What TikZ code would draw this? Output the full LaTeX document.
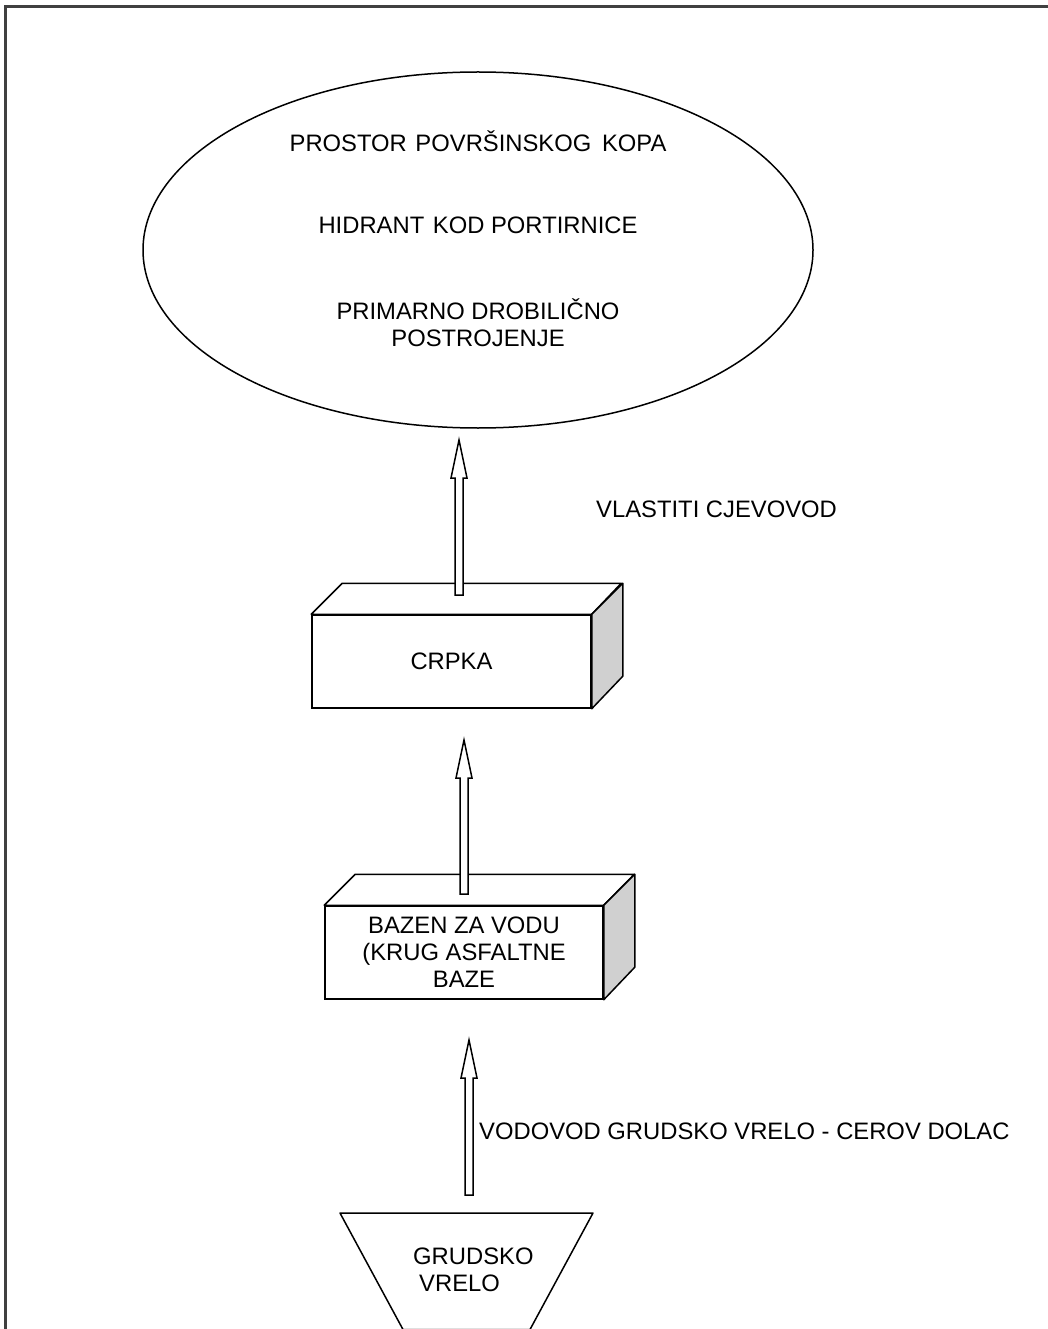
\documentclass[tikz,border=0pt]{standalone}
\usepackage{fontspec}
\setmainfont{Liberation Sans}
\usetikzlibrary{calc, positioning}
\usetikzlibrary{shapes.geometric}

\definecolor{framegray}{HTML}{404040}
\definecolor{sidegray}{HTML}{D0D0D0}

\tikzset{
  lbl/.style={font=\fontsize{23.8}{27}\selectfont, inner sep=0pt, align=center},
  frontface/.style={draw, line width=1.5pt, fill=white, minimum width=279pt, minimum height=93pt, inner sep=0pt},
  facebox/.style={draw, line width=1.5pt, line join=round},
  arrowbody/.style={draw, line width=1.5pt, fill=white, line join=miter},
}

\newcommand{\blockarrow}[2]{%
  \draw[arrowbody] let \p1=(#1), \p2=(#2) in
    (\x1-4pt,\y1) -- (\x1-4pt,\y2-38pt) -- (\x1-8pt,\y2-38pt) -- (\x2,\y2)
    -- (\x1+8pt,\y2-38pt) -- (\x1+4pt,\y2-38pt) -- (\x1+4pt,\y1) -- cycle;
}

\newcommand{\drawbox}[1]{%
  \draw[facebox, fill=white] (#1.north west) -- ++(31,-31) -- ++(\pgfkeysvalueof{/tikz/boxw},0) -- ($(#1.north east)$) -- cycle;
  \draw[facebox, fill=sidegray] (#1.north east) -- ++(31,-31) -- ++(0,93) -- ($(#1.south east)$) -- cycle;
}
\pgfkeyssetvalue{/tikz/boxw}{279}

\begin{document}
\begin{tikzpicture}[x=1pt, y=-1pt]
\useasboundingbox (0,0) rectangle (1047,1329);

\draw[framegray, line width=2.5pt] (5.5,1340) |- (1060,6.5);

% ellipse
\node[ellipse, draw, line width=1.5pt, minimum width=670pt, minimum height=356pt, inner sep=0pt] (kop) at (478,250) {};
\node[lbl] (prostor) at (478,141) {PROSTOR\hspace{2pt} POVRŠINSKOG\hspace{4pt} KOPA};
\node[lbl] (hidrant) at (478,225) {HIDRANT\hspace{2pt} KOD PORTIRNICE};
\node[lbl] (drobilica) at (478,322.5) {PRIMARNO DROBILIČNO\\POSTROJENJE};

% crpka
\node[frontface] (crpka) at (451.5,661.5) {};
\drawbox{crpka}
\node[lbl] at (crpka) {CRPKA};

% bazen
\node[frontface, minimum width=278pt] (bazen) at (464,952.5) {};
\drawbox{bazen}
\node[lbl] at (bazen) {BAZEN ZA VODU\\(KRUG ASFALTNE\\BAZE};

% vrelo
\coordinate (vtl) at (340,1213);
\coordinate (vtr) at (593,1213);
\coordinate (vbl) at (403,1329.5);
\coordinate (vbr) at (530,1329.5);
\draw[line width=1.5pt, line join=round] (vtl) -- (vtr) -- (vbr) -- (vbl) -- cycle;
\node[lbl, align=left, anchor=west] (vrelo) at (413,1269.5) {GRUDSKO\\\hspace{6pt}VRELO};

% arrows
\coordinate (a1s) at (459,595);
\coordinate (a1e) at (459,440);
\coordinate (a2s) at (464,894);
\coordinate (a2e) at (464,740);
\coordinate (a3s) at (469,1195);
\coordinate (a3e) at (469,1040);
\blockarrow{a1s}{a1e}
\blockarrow{a2s}{a2e}
\blockarrow{a3s}{a3e}

\node[lbl, anchor=west] (cjevovod) at (596,509) {VLASTITI CJEVOVOD};
\node[lbl, anchor=west] (vodovod) at (479,1131) {VODOVOD GRUDSKO VRELO - CEROV DOLAC};
\end{tikzpicture}
\end{document}
